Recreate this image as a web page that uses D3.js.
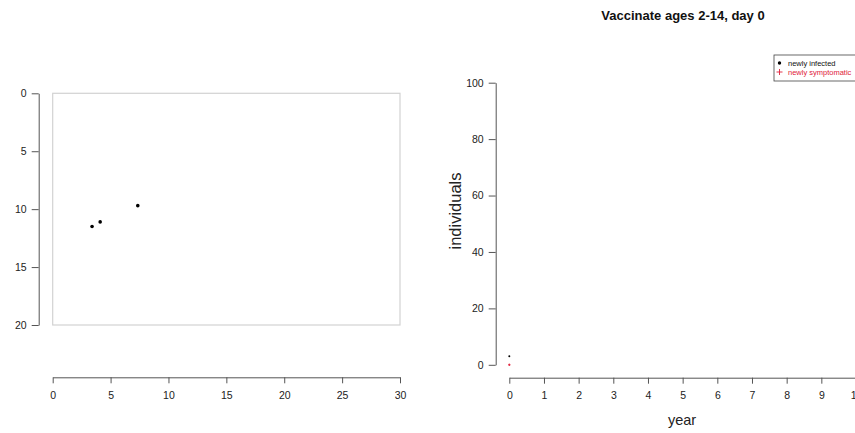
<!DOCTYPE html>
<html>
<head>
<meta charset="utf-8">
<script src="https://cdn.jsdelivr.net/npm/d3@7"></script>
<style>
  html, body { margin: 0; padding: 0; background: #fff; }
  svg { display: block; font-family: "Liberation Sans", Arial, sans-serif; }
</style>
</head>
<body>
<svg id="chart" width="855" height="433"></svg>
<script>
// Left panel: map of infection locations
const mapX = [3.4, 4.1, 7.35];
const mapY = [11.5, 11.1, 9.7];
const mapXTicks = [0, 5, 10, 15, 20, 25, 30];
const mapYTicks = [0, 5, 10, 15, 20];

// Right panel: epidemic curve
const title = "Vaccinate ages 2-14, day 0";
const infectedYear = [0];
const infectedCount = [3];
const symptomYear = [0];
const symptomCount = [0];
const yearTicks = [0, 1, 2, 3, 4, 5, 6, 7, 8, 9, 10];
const countTicks = [0, 20, 40, 60, 80, 100];
const legendLabels = ["newly infected", "newly symptomatic"];

const svg = d3.select("#chart");
const axisColor = "#555";

function styleAxis(g, size) {
  g.selectAll("path, line").attr("stroke", axisColor);
  g.selectAll("text").attr("fill", "#222").style("font-size", size + "px");
}

// ---------- left panel ----------
const lx = d3.scaleLinear().domain([0, 30]).range([52.7, 400]);
const ly = d3.scaleLinear().domain([0, 20]).range([93.3, 325]);

svg.append("rect")
  .attr("x", lx(0)).attr("y", ly(0))
  .attr("width", lx(30) - lx(0)).attr("height", ly(20) - ly(0))
  .attr("fill", "none").attr("stroke", "#d2d2d2").attr("stroke-width", 1.2);

svg.append("g")
  .attr("transform", "translate(38.7,0)")
  .call(d3.axisLeft(ly).tickValues(mapYTicks).tickSize(7).tickSizeOuter(0).tickPadding(5))
  .call(g => styleAxis(g, 10.5));

svg.append("g")
  .attr("transform", "translate(0,377.3)")
  .call(d3.axisBottom(lx).tickValues(mapXTicks).tickSize(6).tickSizeOuter(0).tickPadding(8))
  .call(g => styleAxis(g, 10.5));

svg.append("g").selectAll("circle")
  .data(mapX)
  .join("circle")
  .attr("cx", d => lx(d))
  .attr("cy", (d, i) => ly(mapY[i]))
  .attr("r", 1.8)
  .attr("fill", "#000");

// ---------- right panel ----------
const rx = d3.scaleLinear().domain([0, 10]).range([509.3, 856]);
const ry = d3.scaleLinear().domain([0, 100]).range([364.8, 82.7]);

svg.append("text")
  .attr("x", 683).attr("y", 19.5)
  .attr("text-anchor", "middle")
  .style("font-size", "13px").style("font-weight", "bold")
  .attr("fill", "#111")
  .text(title);

svg.append("g")
  .attr("transform", "translate(495.7,0)")
  .call(d3.axisLeft(ry).tickValues(countTicks).tickSize(7).tickSizeOuter(0).tickPadding(5))
  .call(g => styleAxis(g, 10.5));

svg.append("g")
  .attr("transform", "translate(0,377.7)")
  .call(d3.axisBottom(rx).tickValues(yearTicks).tickSize(6).tickSizeOuter(0).tickPadding(8))
  .call(g => styleAxis(g, 10.5));

svg.append("text")
  .attr("x", 682).attr("y", 425)
  .attr("text-anchor", "middle")
  .style("font-size", "14.5px")
  .attr("fill", "#222")
  .text("year");

svg.append("text")
  .attr("transform", "translate(461,211) rotate(-90)")
  .attr("text-anchor", "middle")
  .style("font-size", "16.5px")
  .attr("fill", "#222")
  .text("individuals");

svg.append("g").selectAll("circle")
  .data(infectedYear)
  .join("circle")
  .attr("cx", d => rx(d))
  .attr("cy", (d, i) => ry(infectedCount[i]))
  .attr("r", 1)
  .attr("fill", "#000");

svg.append("g").selectAll("path")
  .data(symptomYear)
  .join("path")
  .attr("d", (d, i) => {
    const cx = rx(d), cy = ry(symptomCount[i]);
    return `M${cx - 1.2},${cy}H${cx + 1.2}M${cx},${cy - 1.2}V${cy + 1.2}`;
  })
  .attr("stroke", "#e0203a")
  .attr("stroke-width", 1);

// legend
const legend = svg.append("g").attr("transform", "translate(774,55)");
legend.append("rect")
  .attr("x", 0).attr("y", 0).attr("width", 100).attr("height", 26)
  .attr("fill", "#fff").attr("stroke", "#444").attr("stroke-width", 0.8);
legend.append("circle").attr("cx", 5.5).attr("cy", 8).attr("r", 1.7).attr("fill", "#000");
legend.append("path")
  .attr("d", "M2.5,17H8.5M5.5,14V20")
  .attr("stroke", "#e0203a").attr("stroke-width", 0.9);
legend.selectAll("text")
  .data(legendLabels)
  .join("text")
  .attr("x", 14)
  .attr("y", (d, i) => 10.5 + i * 9)
  .style("font-size", "7.5px")
  .attr("fill", (d, i) => i === 0 ? "#111" : "#e0203a")
  .text(d => d);
</script>
</body>
</html>
